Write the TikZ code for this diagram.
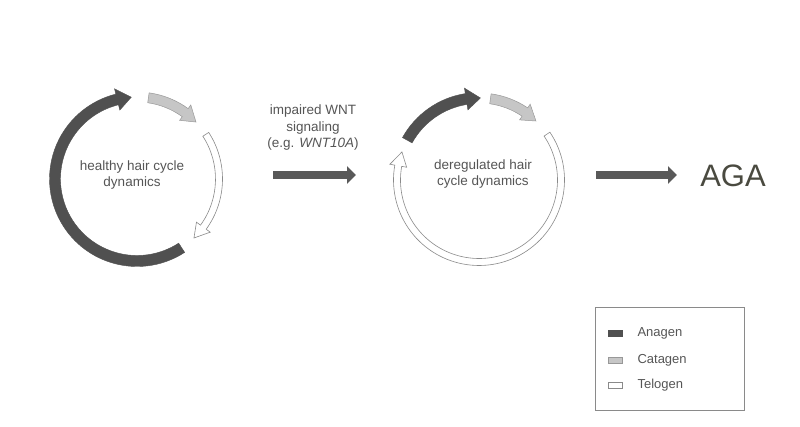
\documentclass[tikz,border=0pt]{standalone}
\usepackage{fontspec}
\setmainfont{Liberation Sans}
\usepackage{tikz}
\usetikzlibrary{arrows.meta, calc}

\definecolor{AnaDark}{HTML}{505050}
\definecolor{CatFill}{HTML}{C6C6C6}
\definecolor{CatLine}{HTML}{989898}
\definecolor{TelLine}{HTML}{8A8A8A}
\definecolor{TextGray}{HTML}{555555}
\definecolor{AgaText}{HTML}{4A4A40}

% band of a cycle phase: centre, from, to (tip), style, half band, half head
\newcommand{\phasearc}[6]{%
	\filldraw[#4, shift={(#1)}] (#2:82+#5) arc[start angle=#2, end angle=#3+10, radius=82+#5]
		-- (#3+10:82+#6) -- (#3:82) -- (#3+10:82-#6) -- (#3+10:82-#5)
		arc[start angle=#3+10, end angle=#2, radius=82-#5] -- cycle;}

\tikzset{
	anagen/.style={fill=AnaDark, draw=AnaDark, line width=0.4pt},
	catagen/.style={fill=CatFill, draw=CatLine, line width=0.5pt},
	telogen/.style={fill=white, draw=TelLine, line width=0.6pt},
	cycletext/.style={text=TextGray, align=center, font=\fontsize{13.5}{16.5}\selectfont},
	legendtext/.style={text=TextGray, anchor=west, font=\fontsize{13}{15}\selectfont},
	swatch/.style={minimum width=14pt, minimum height=6pt, inner sep=0pt},
	bigarrow/.style={draw=AnaDark!95, line width=8pt, -{Triangle[length=9pt, width=17pt]}}
}

\begin{document}
\begin{tikzpicture}[x=1pt, y=1pt]

	\useasboundingbox (0,0) rectangle (800,427);

	\coordinate (L) at (137,248);
	\coordinate (R) at (479,247);

	% healthy cycle
	\phasearc{L}{-57}{-266}{anagen}{5.5}{11}
	\phasearc{L}{82}{44}{catagen}{5}{9.5}
	\phasearc{L}{33}{-46}{telogen}{3.5}{8.5}
	\node[cycletext] (healthy) at (132,252) {healthy hair cycle\\dynamics};

	% deregulated cycle
	\phasearc{R}{151}{89}{anagen}{5.5}{11}
	\phasearc{R}{82}{46}{catagen}{5}{9.5}
	\phasearc{R}{34}{-200}{telogen}{3.5}{8.5}
	\node[cycletext] (dereg) at (483,253) {deregulated hair\\cycle dynamics};

	% transitions
	\node[cycletext, align=center] (wnt) at (313,299) {impaired WNT\\signaling\\(e.g. \textit{WNT10A})};
	\coordinate (s1) at (273,252);
	\coordinate (e1) at (356,252);
	\draw[bigarrow] (s1) -- (e1);

	\node[text=AgaText, anchor=base, font=\fontsize{31}{31}\selectfont] (aga) at (733,240) {AGA};
	\coordinate (s2) at (596,252);
	\coordinate (e2) at (677,252);
	\draw[bigarrow] (s2) -- (e2);

	% legend
	\node[draw=TelLine, line width=0.6pt, minimum width=149pt, minimum height=103pt] (legend) at (669.5,68.5) {};
	\node[swatch, anagen] (swA) at (615,94) {};
	\node[swatch, catagen] (swC) at (615,67) {};
	\node[swatch, telogen] (swT) at (615,42) {};
	\node[legendtext] (ana) at (634,94) {Anagen};
	\node[legendtext] (cat) at (634,67) {Catagen};
	\node[legendtext] (tel) at (634,42) {Telogen};

\end{tikzpicture}
\end{document}
